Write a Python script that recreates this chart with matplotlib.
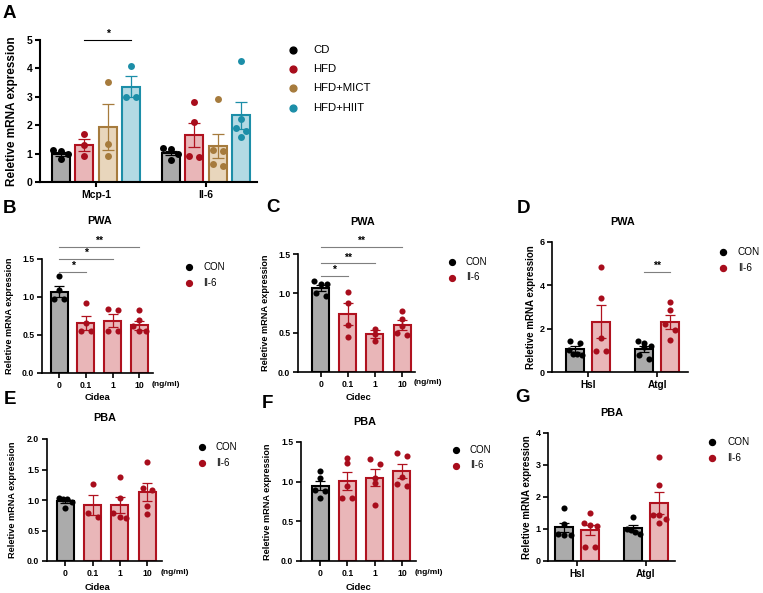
import numpy as np
import matplotlib
matplotlib.use("Agg")
import matplotlib.pyplot as plt
from matplotlib.lines import Line2D

plt.rcParams["font.family"] = ["Liberation Sans", "DejaVu Sans"]

W, H = 763, 593

# ─── Data ─────────────────────────────────────────────────────────────────────

# Panel A
a_genes = ["Mcp-1", "Il-6"]
a_groups = ["CD", "HFD", "HFD+MICT", "HFD+HIIT"]
a_means = [[1.00, 1.02], [1.31, 1.65], [1.93, 1.27], [3.36, 2.35]]
a_sems = [[0.07, 0.08], [0.22, 0.42], [0.80, 0.43], [0.37, 0.48]]
a_points = [
    [[1.12, 1.10, 0.98, 0.80], [1.18, 1.16, 1.00, 0.76]],
    [[1.68, 1.31, 0.93], [2.80, 2.10, 0.90, 0.88]],
    [[3.53, 1.35, 0.92], [2.93, 1.12, 1.10, 0.62, 0.55]],
    [[4.10, 2.99, 2.98], [4.25, 2.22, 1.90, 1.78, 1.60]],
]

# dose panels B, C, E, F
doses = ["0", "0.1", "1", "10"]
b_means = [1.07, 0.66, 0.69, 0.63]
b_sems = [0.07, 0.09, 0.08, 0.06]
b_points = [[1.27, 1.09, 0.97, 0.98], [0.92, 0.66, 0.55, 0.55],
            [0.84, 0.83, 0.55, 0.55], [0.83, 0.70, 0.62, 0.55, 0.55]]

c_means = [1.07, 0.74, 0.48, 0.60]
c_sems = [0.04, 0.14, 0.05, 0.06]
c_points = [[1.16, 1.12, 1.12, 1.00, 0.96], [1.02, 0.88, 0.60, 0.45],
            [0.55, 0.48, 0.40], [0.78, 0.67, 0.58, 0.50, 0.47]]

e_means = [0.98, 0.92, 0.92, 1.13]
e_sems = [0.03, 0.17, 0.13, 0.15]
e_points = [[1.03, 1.02, 1.01, 0.97, 0.87], [1.27, 0.78, 0.72],
            [1.37, 1.03, 0.79, 0.72, 0.70], [1.63, 1.19, 1.16, 0.90, 0.77]]

f_means = [0.95, 1.01, 1.05, 1.13]
f_sems = [0.06, 0.11, 0.11, 0.09]
f_points = [[1.13, 1.05, 0.90, 0.88, 0.80], [1.30, 1.23, 0.95, 0.79, 0.79],
            [1.28, 1.22, 1.05, 0.98, 0.70], [1.36, 1.32, 1.06, 0.97, 0.95]]

# lipolysis panels D, G
lip_genes = ["Hsl", "Atgl"]
d_means = [[1.05, 1.08], [2.32, 2.32]]  # [CON, Il-6] x [Hsl, Atgl]
d_sems = [[0.13, 0.14], [0.76, 0.32]]
d_points = [
    [[1.45, 1.35, 1.00, 0.85, 0.85, 0.78], [1.42, 1.35, 1.20, 1.15, 0.80, 0.62]],
    [[4.83, 3.40, 1.55, 0.95, 0.95], [3.25, 2.85, 2.20, 1.95, 1.50]],
]

g_means = [[1.05, 1.02], [0.96, 1.81]]
g_sems = [[0.15, 0.09], [0.16, 0.34]]
g_points = [
    [[1.65, 1.15, 0.85, 0.80, 0.80], [1.38, 1.00, 0.97, 0.90, 0.85]],
    [[1.50, 1.18, 1.10, 1.12, 0.45, 0.45], [3.25, 2.38, 1.45, 1.45, 1.30, 1.20]],
]

# ─── Styles ───────────────────────────────────────────────────────────────────

A_FILL = ["#ababab", "#e9b6b8", "#e8d6bc", "#b3dae4"]
A_EDGE = ["#000000", "#b0121f", "#a67b3d", "#1c8ea8"]
A_DOT = ["#000000", "#a80d1c", "#a67b3d", "#1c8ea8"]
CON_FILL, CON_EDGE, CON_DOT = "#ababab", "#000000", "#000000"
IL_FILL, IL_EDGE, IL_DOT = "#e9b6b8", "#b0121f", "#a80d1c"

fig = plt.figure(figsize=(W / 100, H / 100), dpi=100)


def px_axes(left, right, top, bottom):
    return fig.add_axes([left / W, 1 - bottom / H, (right - left) / W, (bottom - top) / H])


def fx(x):
    return x / W


def fy(y):
    return 1 - y / H


def spread(vals, ythr, xstep, xmax):
    # prism-like horizontal spreading of points with close y values
    vals = np.asarray(vals)
    order = np.argsort(-vals)
    offs = np.zeros(len(vals))
    groups, cur = [], [order[0]]
    for i in order[1:]:
        if vals[cur[0]] - vals[i] < ythr:
            cur.append(i)
        else:
            groups.append(cur)
            cur = [i]
    groups.append(cur)
    for g in groups:
        k = len(g)
        step = xstep if k < 2 else min(xstep, xmax / (k - 1))
        for j, idx in enumerate(g):
            offs[idx] = (j - (k - 1) / 2) * step
    return offs


def style_axes(ax, lw=1.2):
    for s in ["top", "right"]:
        ax.spines[s].set_visible(False)
    for s in ["left", "bottom"]:
        ax.spines[s].set_linewidth(lw)
    ax.tick_params(width=lw, length=3.5, pad=2)


def draw_bar(ax, x, mean, sem, pts, width, fill, edge, dot, ythr, xstep, xmax,
             ms=4.4, cap=3.5):
    ax.bar(x, mean, width, color=fill, edgecolor=edge, linewidth=1.5, zorder=2)
    ax.errorbar(x, mean, yerr=sem, fmt="none", ecolor=edge, elinewidth=0.9,
                capsize=cap, capthick=0.9, zorder=3)
    offs = spread(pts, ythr, xstep, xmax)
    ax.plot(x + offs, pts, "o", color=dot, markersize=ms, markeredgewidth=0, zorder=4)


def legend_at(x, y, labels, colors, dy, fs, gap):
    for i, (lab, c) in enumerate(zip(labels, colors)):
        fig.add_artist(Line2D([fx(x)], [fy(y + i * dy)], marker="o", color=c,
                              markersize=fs * 0.6, linestyle="none"))
        fig.text(fx(x + gap), fy(y + i * dy), lab, fontsize=fs, va="center", ha="left")


def sig(ax, x0, x1, y, txt, color="#7f7f7f", dy=0.0, lw=0.8):
    ax.plot([x0, x1], [y, y], color=color, lw=lw, clip_on=False)
    ax.text((x0 + x1) / 2, y + dy, txt, ha="center", va="bottom", fontsize=7.5,
            fontweight="bold")


def letter(x, y, t):
    fig.text(fx(x), fy(y), t, fontsize=13.5, fontweight="bold", ha="center", va="center")


# ─── Panel A ──────────────────────────────────────────────────────────────────

axA = px_axes(40, 257, 40, 182)
style_axes(axA, lw=1.5)
a_off = np.array([-1.5, -0.5, 0.5, 1.5]) * (23.5 / 110)
for gi in range(len(a_groups)):
    for k in range(len(a_genes)):
        draw_bar(axA, k + a_off[gi], a_means[gi][k], a_sems[gi][k], a_points[gi][k],
                 18 / 110, A_FILL[gi], A_EDGE[gi], A_DOT[gi],
                 ythr=5 * 6 / 142, xstep=10 / 110, xmax=15 / 110, ms=5, cap=4.5)
axA.set_xlim((40 - 96) / 110, (257 - 96) / 110)
axA.set_ylim(0, 5)
axA.set_yticks(range(6))
axA.set_xticks(range(len(a_genes)))
axA.set_xticklabels(a_genes)
for lab in axA.get_xticklabels() + axA.get_yticklabels():
    lab.set_fontweight("bold")
    lab.set_fontsize(7.5)
axA.set_ylabel("Reletive mRNA expression", fontsize=8.5, fontweight="bold")
axA.yaxis.set_label_coords((18 - 40) / 217, 0.5)
sig(axA, a_off[1], a_off[3], 5.0, "*", color="black", dy=0.05)
legend_at(293, 50, a_groups, A_DOT, 19.2, 8.2, 20)
letter(9, 13, "A")

# ─── Dose panels ──────────────────────────────────────────────────────────────


def dose_panel(box, c0, s, ymax, yticks, means, sems, points, title, tpos, xlab, xlpos,
               lpos, lab_x, sigs=()):
    left, right, top, bottom = box
    ax = px_axes(left, right, top, bottom)
    style_axes(ax)
    hpx = bottom - top
    for i in range(len(doses)):
        fill, edge, dot = (CON_FILL, CON_EDGE, CON_DOT) if i == 0 else (IL_FILL, IL_EDGE, IL_DOT)
        draw_bar(ax, i, means[i], sems[i], points[i], 17 / s, fill, edge, dot,
                 ythr=ymax * 5.5 / hpx, xstep=10 / s, xmax=13 / s)
    ax.set_xlim((left - c0) / s, (right - c0) / s)
    ax.set_ylim(0, ymax)
    ax.set_yticks(yticks)
    ax.set_yticklabels([f"{t:.1f}" for t in yticks])
    ax.set_xticks(range(len(doses)))
    ax.set_xticklabels(doses)
    for lab in ax.get_xticklabels() + ax.get_yticklabels():
        lab.set_fontweight("bold")
        lab.set_fontsize(6.2)
    ax.set_ylabel("Reletive mRNA expression", fontsize=6.6, fontweight="bold")
    ax.yaxis.set_label_coords((lab_x - left) / (right - left), 0.5)
    fig.text(fx(right + 13), fy(bottom + 11), "(ng/ml)", fontsize=6, fontweight="bold",
             ha="center", va="center")
    fig.text(fx(tpos[0]), fy(tpos[1]), title, fontsize=7.8, fontweight="bold",
             ha="center", va="center")
    fig.text(fx(xlpos[0]), fy(xlpos[1]), xlab, fontsize=6.8, fontweight="bold",
             ha="center", va="center")
    legend_at(lpos[0], lpos[1], ["CON", "Il-6"], [CON_DOT, IL_DOT], 15.5, 7, 14)
    for x1, y, txt in sigs:
        sig(ax, 0, x1, y, txt, dy=0.01)
    return ax


dose_panel((42, 153, 259, 373), 59.3, 26.6, 1.5, [0, 0.5, 1.0, 1.5],
           b_means, b_sems, b_points, "PWA", (100, 221), "Cidea", (97, 398),
           (189, 267), 14, sigs=[(1, 1.33, "*"), (2, 1.50, "*"), (3, 1.66, "**")])
letter(10, 208, "B")

dose_panel((298, 415, 254, 372), 320.7, 27.1, 1.5, [0, 0.5, 1.0, 1.5],
           c_means, c_sems, c_points, "PWA", (363, 222), "Cidec", (358, 398),
           (452, 262), 270, sigs=[(1, 1.22, "*"), (2, 1.38, "**"), (3, 1.59, "**")])
letter(273, 207, "C")

dose_panel((47, 162, 439, 561), 65, 27.5, 2.0, [0, 0.5, 1.0, 1.5, 2.0],
           e_means, e_sems, e_points, "PBA", (105, 418), "Cidea", (97, 587),
           (202, 447), 17)
letter(10, 400, "E")

dose_panel((301, 416, 442, 561), 320, 27.3, 1.5, [0, 0.5, 1.0, 1.5],
           f_means, f_sems, f_points, "PBA", (365, 422), "Cidec", (358, 587),
           (456, 450), 272)
letter(267, 403, "F")

# ─── Lipolysis panels ─────────────────────────────────────────────────────────


def lip_panel(box, c0, ymax, yticks, means, sems, points, title, tpos, lpos, lab_x,
              sigs=()):
    left, right, top, bottom = box
    s = 69.0
    ax = px_axes(left, right, top, bottom)
    style_axes(ax)
    hpx = bottom - top
    offs = [-13 / s, 13 / s]
    styles = [(CON_FILL, CON_EDGE, CON_DOT), (IL_FILL, IL_EDGE, IL_DOT)]
    for gi in range(2):
        for k in range(len(lip_genes)):
            fill, edge, dot = styles[gi]
            draw_bar(ax, k + offs[gi], means[gi][k], sems[gi][k], points[gi][k],
                     17.5 / s, fill, edge, dot, ythr=ymax * 5.5 / hpx,
                     xstep=10 / s, xmax=13 / s)
    ax.set_xlim((left - c0) / s, (right - c0) / s)
    ax.set_ylim(0, ymax)
    ax.set_yticks(yticks)
    ax.set_xticks(range(len(lip_genes)))
    ax.set_xticklabels(lip_genes)
    for lab in ax.get_xticklabels():
        lab.set_fontweight("bold")
        lab.set_fontsize(7.2)
    for lab in ax.get_yticklabels():
        lab.set_fontweight("bold")
        lab.set_fontsize(6.5)
    ax.set_ylabel("Reletive mRNA expression", fontsize=7, fontweight="bold")
    ax.yaxis.set_label_coords((lab_x - left) / (right - left), 0.5)
    fig.text(fx(tpos[0]), fy(tpos[1]), title, fontsize=7.8, fontweight="bold",
             ha="center", va="center")
    legend_at(lpos[0], lpos[1], ["CON", "Il-6"], [CON_DOT, IL_DOT], 16, 7.2, 15)
    for x0, x1, y, txt in sigs:
        sig(ax, x0, x1, y, txt, dy=0.05)
    return ax


lip_panel((552, 688, 242, 372), 588, 6, [0, 2, 4, 6], d_means, d_sems, d_points,
          "PWA", (623, 222), (723, 252), 536, sigs=[(1 - 13 / 69, 1 + 13 / 69, 4.6, "**")])
letter(524, 208, "D")

lip_panel((548, 675, 433, 561), 577, 4, [0, 1, 2, 3, 4], g_means, g_sems, g_points,
          "PBA", (612, 413), (712, 442), 532)
letter(522, 398, "G")

plt.savefig("out.png", dpi=100)
